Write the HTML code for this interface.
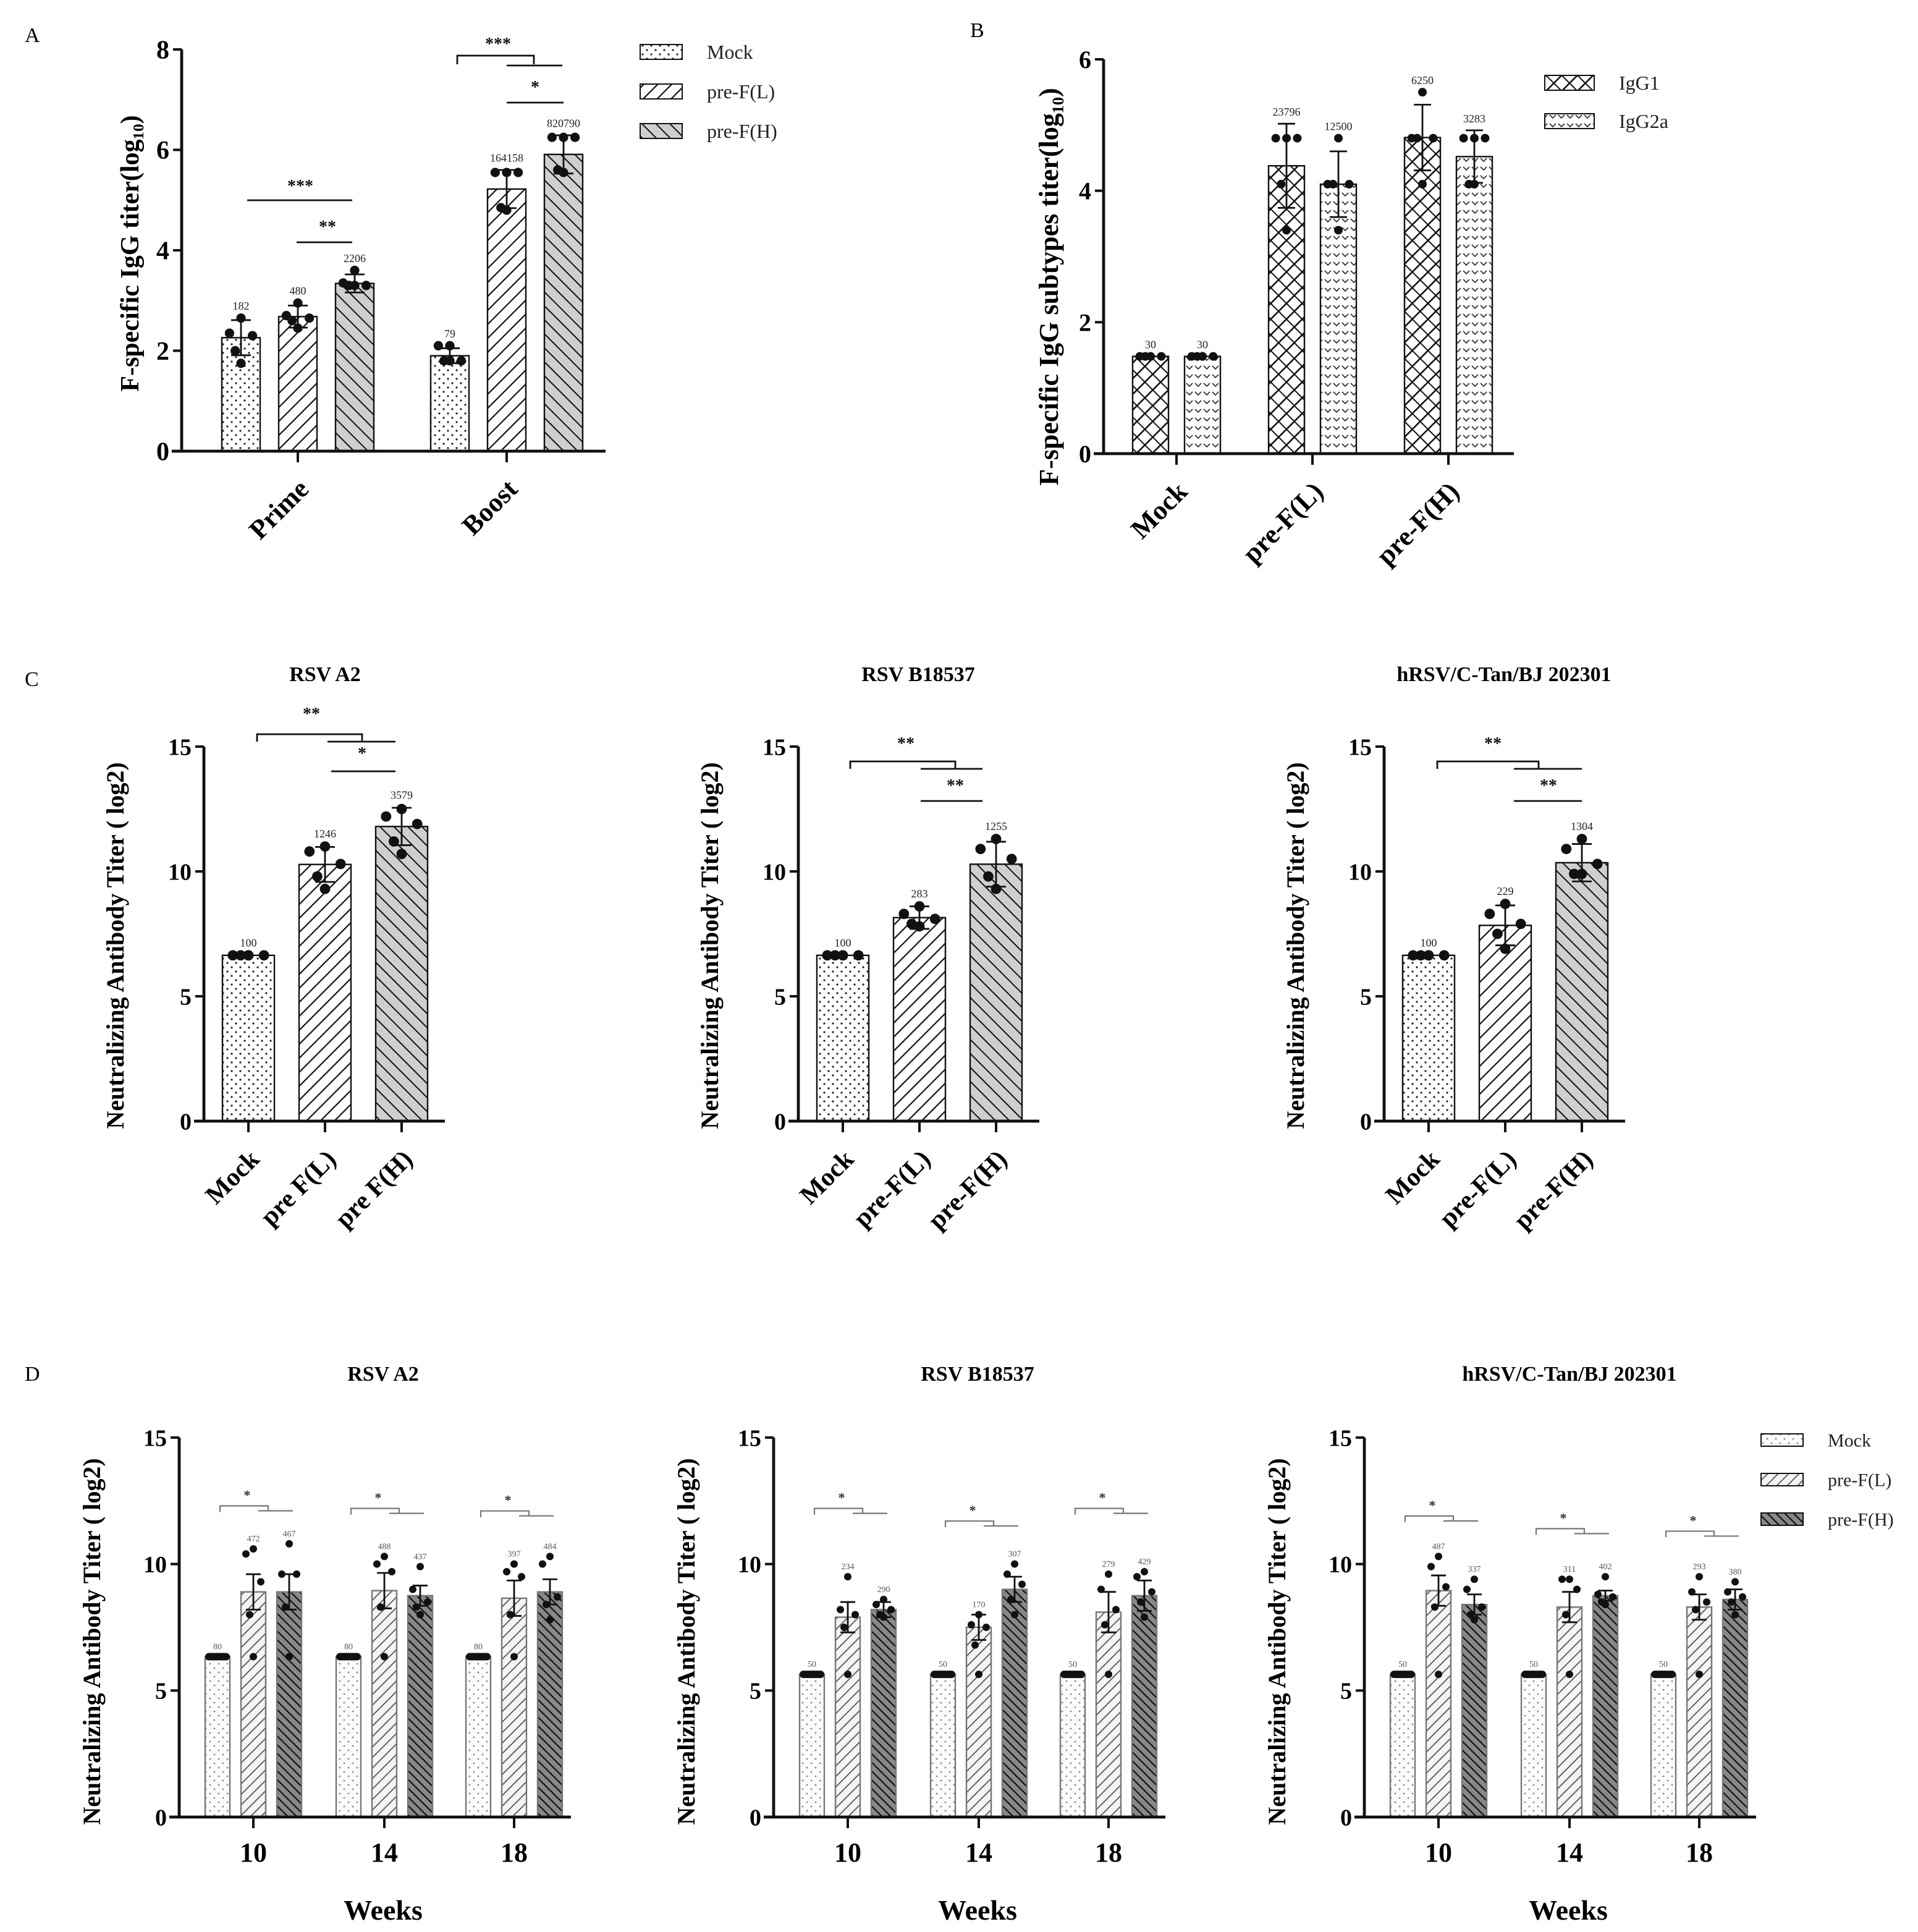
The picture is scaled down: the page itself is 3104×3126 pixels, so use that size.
<!DOCTYPE html>
<html><head><meta charset="utf-8"><style>
html,body{margin:0;padding:0;background:#fff;}
svg{display:block;font-family:"Liberation Serif",serif;}
</style></head><body>
<svg id="fig" xmlns="http://www.w3.org/2000/svg" width="3104" height="3126" viewBox="0 0 1552 1563">
<defs>
<pattern id="pDots" width="7" height="7" patternUnits="userSpaceOnUse"><rect width="7" height="7" fill="#fff"/><circle cx="2" cy="2" r="0.8" fill="#222"/><circle cx="5.5" cy="5.5" r="0.8" fill="#222"/></pattern>
<pattern id="pL" width="8" height="8" patternUnits="userSpaceOnUse" patternTransform="rotate(45)"><rect width="8" height="8" fill="#fff"/><line x1="0" y1="0" x2="0" y2="8" stroke="#111" stroke-width="2.2"/></pattern>
<pattern id="pH" width="8" height="8" patternUnits="userSpaceOnUse" patternTransform="rotate(-45)"><rect width="8" height="8" fill="#cfcfcf"/><line x1="0" y1="0" x2="0" y2="8" stroke="#111" stroke-width="2"/></pattern>
<pattern id="pG1" width="9" height="9" patternUnits="userSpaceOnUse" patternTransform="rotate(45)"><rect width="9" height="9" fill="#fff"/><line x1="0" y1="0" x2="0" y2="9" stroke="#111" stroke-width="2.6"/><line x1="0" y1="4.5" x2="9" y2="4.5" stroke="#111" stroke-width="1"/></pattern>
<pattern id="pG2" width="7" height="7" patternUnits="userSpaceOnUse"><rect width="7" height="7" fill="#fff"/><path d="M1 2 L3.5 4.5 L6 2" stroke="#333" stroke-width="0.9" fill="none"/></pattern>
<pattern id="pDM" width="7" height="7" patternUnits="userSpaceOnUse"><rect width="7" height="7" fill="#fbfbfb"/><circle cx="2" cy="2" r="0.7" fill="#888"/><circle cx="5.5" cy="5.5" r="0.7" fill="#888"/></pattern>
<pattern id="pDL" width="6" height="6" patternUnits="userSpaceOnUse" patternTransform="rotate(45)"><rect width="6" height="6" fill="#f4f4f4"/><line x1="0" y1="0" x2="0" y2="6" stroke="#555" stroke-width="1.8"/></pattern>
<pattern id="pDH" width="5" height="5" patternUnits="userSpaceOnUse" patternTransform="rotate(-45)"><rect width="5" height="5" fill="#888"/><line x1="0" y1="0" x2="0" y2="5" stroke="#111" stroke-width="2.2"/></pattern>
</defs>
<g id="root"></g>
</svg>
<script>
// ---------- DATA ----------
// Panel A
const aCategories = ["Prime","Boost"];
const aSeries = ["Mock","pre-F(L)","pre-F(H)"];
const aMeans = [[2.26,2.68,3.34],[1.9,5.22,5.91]];
const aErrs = [[0.35,0.22,0.18],[0.15,0.38,0.38]];
const aLabels = [["182","480","2206"],["79","164158","820790"]];
const aPoints = [[[2.65,2.35,2.3,2.0,1.75],[2.95,2.7,2.65,2.6,2.45],[3.6,3.35,3.3,3.3,3.3]],[[2.1,2.1,1.8,1.8,1.8],[5.55,5.55,5.55,4.85,4.8],[6.25,6.25,6.25,5.6,5.55]]];
const aTicks = [0,2,4,6,8];
// Panel B
const bCategories = ["Mock","pre-F(L)","pre-F(H)"];
const bSeries = ["IgG1","IgG2a"];
const bMeans = [[1.48,1.48],[4.38,4.1],[4.81,4.52]];
const bErrs = [[0,0],[0.64,0.5],[0.5,0.4]];
const bLabels = [["30","30"],["23796","12500"],["6250","3283"]];
const bPoints = [[[1.48,1.48,1.48,1.48,1.48],[1.48,1.48,1.48,1.48,1.48]],[[4.8,4.8,4.8,4.1,3.4],[4.8,4.1,4.1,4.1,3.4]],[[5.5,4.8,4.8,4.8,4.1],[4.8,4.8,4.8,4.1,4.1]]];
const bTicks = [0,2,4,6];
// Panel C
const cTitles = ["RSV A2","RSV B18537","hRSV/C-Tan/BJ 202301"];
const cCategories = [["Mock","pre F(L)","pre F(H)"],["Mock","pre-F(L)","pre-F(H)"],["Mock","pre-F(L)","pre-F(H)"]];
const cMeans = [[6.64,10.28,11.8],[6.64,8.15,10.29],[6.64,7.84,10.35]];
const cErrs = [[0,0.7,0.75],[0,0.45,0.9],[0,0.8,0.75]];
const cLabels = [["100","1246","3579"],["100","283","1255"],["100","229","1304"]];
const cPoints = [
 [[6.64,6.64,6.64,6.64,6.64],[11.0,10.8,10.3,9.8,9.3],[12.5,12.2,11.9,11.2,10.7]],
 [[6.64,6.64,6.64,6.64,6.64],[8.6,8.3,8.1,7.9,7.8],[11.3,10.9,10.5,9.8,9.3]],
 [[6.64,6.64,6.64,6.64,6.64],[8.7,8.3,7.9,7.5,6.9],[11.3,10.9,10.3,9.9,9.9]]];
const cTicks = [0,5,10,15];
// Panel D
const dTitles = ["RSV A2","RSV B18537","hRSV/C-Tan/BJ 202301"];
const dWeeks = ["10","14","18"];
const dMeans = [
 [[6.34,8.9,8.9],[6.34,8.95,8.75],[6.34,8.65,8.9]],
 [[5.64,7.9,8.2],[5.64,7.5,9.0],[5.64,8.1,8.75]],
 [[5.64,8.95,8.4],[5.64,8.3,8.75],[5.64,8.3,8.6]]];
const dErrs = [
 [[0,0.7,0.7],[0,0.7,0.4],[0,0.7,0.5]],
 [[0,0.6,0.3],[0,0.5,0.5],[0,0.8,0.6]],
 [[0,0.6,0.4],[0,0.6,0.2],[0,0.5,0.4]]];
const dLabels = [
 [["80","472","467"],["80","488","437"],["80","397","484"]],
 [["50","234","290"],["50","170","307"],["50","279","429"]],
 [["50","487","337"],["50","311","402"],["50","293","380"]]];
const dPoints = [
 [[[6.34],[10.6,10.4,9.3,8.0,6.34],[10.8,9.6,9.6,8.3,6.34]],[[6.34],[10.3,10.0,9.7,8.3,6.34],[9.9,9.0,8.5,8.3,8.0]],[[6.34],[10.0,9.7,9.5,8.0,6.34],[10.3,10.0,8.7,8.4,7.8]]],
 [[[5.64],[9.5,8.2,8.0,7.5,5.64],[8.6,8.4,8.2,8.0,7.9]],[[5.64],[8.0,7.6,7.5,6.8,5.64],[10.0,9.6,9.2,8.6,8.0]],[[5.64],[9.6,9.0,8.2,7.6,5.64],[9.7,9.5,8.9,8.5,7.9]]],
 [[[5.64],[10.3,9.9,9.1,8.3,5.64],[9.4,9.0,8.3,8.0,7.8]],[[5.64],[9.4,9.4,9.0,8.0,5.64],[9.5,8.8,8.7,8.5,8.4]],[[5.64],[9.5,8.9,8.5,8.2,5.64],[9.3,8.9,8.7,8.5,8.0]]]];
const dSigLevels = [[12.3,12.2,12.1],[12.2,11.7,12.2],[11.9,11.4,11.3]];
const dTicks = [0,5,10,15];

// ---------- HELPERS ----------
const NS="http://www.w3.org/2000/svg";
const root=document.getElementById('root');
function el(tag,attrs,parent){const e=document.createElementNS(NS,tag);for(const k in attrs)e.setAttribute(k,attrs[k]);(parent||root).appendChild(e);return e;}
function txt(s,attrs,parent){const e=el('text',attrs,parent);e.textContent=s;return e;}

function drawChart(o){
  const g=el('g',{});
  
  
  const y=v=>o.y0-(v/o.max)*(o.y0-o.yTop);
  o.means.forEach((grp,gi)=>{
    grp.forEach((m,si)=>{
      const cx=o.centers[gi]+(si-(grp.length-1)/2)*o.off;
      const r=el('rect',{x:cx-o.bw/2,y:y(m),width:o.bw,height:o.y0-y(m),fill:o.fills[si],stroke:o.stroke||'#111','stroke-width':1.2},g);
      
      
      const e=o.errs[gi][si];
      if(e>0){
        el('line',{x1:cx,x2:cx,y1:y(m+e),y2:y(m-e),stroke:'#111','stroke-width':1.4},g);
        el('line',{x1:cx-o.cap,x2:cx+o.cap,y1:y(m+e),y2:y(m+e),stroke:'#111','stroke-width':1.4},g);
        el('line',{x1:cx-o.cap,x2:cx+o.cap,y1:y(m-e),y2:y(m-e),stroke:'#111','stroke-width':1.4},g);
      }
      const pts=o.points[gi][si];
      if(pts.length===1){
        el('rect',{x:cx-o.bw/2,y:y(pts[0])-o.dot,width:o.bw,height:o.dot*2,fill:'#111',rx:o.dot},g);
      } else {
        pts.forEach((p,pi)=>{
          const dx=[0,-o.bw*0.3,o.bw*0.3,-o.bw*0.15,0][pi%5];
          const c=el('circle',{cx:cx+dx,cy:y(p),r:o.dot,fill:'#111'},g);
          
          
        });
      }
      const top=Math.max(m+e,...pts);
      txt(o.labels[gi][si],{x:cx,y:y(top)-o.dot-3,'font-size':o.lfs,'text-anchor':'middle',fill:o.lcol||'#222'},g);
    });
  });
  el('line',{x1:o.x0,x2:o.x0,y1:o.yTop,y2:o.y0+1,stroke:'#111','stroke-width':2.4},g);
  el('line',{x1:o.x0-8,x2:o.xEnd,y1:o.y0,y2:o.y0,stroke:'#111','stroke-width':2.4},g);
  o.ticks.forEach(t=>{
    el('line',{x1:o.x0-7,x2:o.x0,y1:y(t),y2:y(t),stroke:'#111','stroke-width':2},g);
    const tl=txt(String(t),{x:o.x0-10,y:y(t)+o.tfs*0.35,'font-size':o.tfs,'font-weight':'bold','text-anchor':'end'},g);
    
    
  });
  o.centers.forEach((c,i)=>{
    el('line',{x1:c,x2:c,y1:o.y0,y2:o.y0+9,stroke:'#111','stroke-width':2},g);
    let t;
    if(o.rotate){
      t=txt(o.cats[i],{x:c+10,y:o.y0+32,'font-size':o.cfs,'font-weight':'bold','text-anchor':'end',transform:`rotate(-45 ${c+10} ${o.y0+32})`},g);
    } else {
      t=txt(o.cats[i],{x:c,y:o.y0+36,'font-size':o.cfs,'font-weight':'bold','text-anchor':'middle'},g);
    }
    
    
  });
  const yl=txt(o.ylabel,{x:o.ylx,y:o.yly,'font-size':o.yfs,'font-weight':'bold','text-anchor':'middle',transform:`rotate(-90 ${o.ylx} ${o.yly})`},g);
  
  
  if(o.title){
    const tt=txt(o.title,{x:o.tx,y:o.ty,'font-size':17,'font-weight':'bold','text-anchor':'middle'},g);
    
    
  }
  return {g,y};
}
function sig(g,pts,col,w){el('polyline',{points:pts,fill:'none',stroke:col||'#111','stroke-width':w||1.4},g);}
function star(g,s,x,yy,fs,col){txt(s,{x:x,y:yy,'font-size':fs||14,'font-weight':'bold','text-anchor':'middle',fill:col||'#111'},g);}
function legend(items,x,y0,dy,fs,bw,bh,name){
  const g=el('g',{});
  
  
  items.forEach((it,i)=>{
    const yy=y0+i*dy;
    el('rect',{x:x,y:yy-bh/2,width:bw,height:bh,fill:it[1],stroke:'#111','stroke-width':1},g);
    txt(it[0],{x:x+bw+20,y:yy+fs*0.35,'font-size':fs,fill:'#222'},g);
  });
}
function panelLabel(s,x,y){const t=txt(s,{x:x,y:y,'font-size':17});}

// ---------- PANEL A ----------
panelLabel('A',20,34);
const A=drawChart({name:'panel-a',x0:147,y0:365,yTop:40,max:8,xEnd:490,centers:[241,410],off:46,bw:31,cap:8,dot:3.8,
 means:aMeans,errs:aErrs,labels:aLabels,points:aPoints,fills:['url(#pDots)','url(#pL)','url(#pH)'],ticks:aTicks,tfs:21,
 cats:aCategories,rotate:true,cfs:22,lfs:9,ylabel:'F-specific IgG titer(log\u2081\u2080)',ylx:112,yly:205,yfs:21});
sig(A.g,'200,162 285,162');star(A.g,'***',243,155);
sig(A.g,'240,196 285,196');star(A.g,'**',265,188);
sig(A.g,'370,52 370,45 432,45 432,52');sig(A.g,'410,53 455,53');star(A.g,'***',403,40);
star(A.g,'*',433,75);sig(A.g,'410,83 456,83');
legend([['Mock','url(#pDots)'],['pre-F(L)','url(#pL)'],['pre-F(H)','url(#pH)']],518,42,32,16,34,12,'legend-a');

// ---------- PANEL B ----------
panelLabel('B',785,30);
drawChart({name:'panel-b',x0:893,y0:367,yTop:48,max:6,xEnd:1225,centers:[952,1062,1172],off:42,bw:29,cap:7,dot:3.5,
 means:bMeans,errs:bErrs,labels:bLabels,points:bPoints,fills:['url(#pG1)','url(#pG2)'],ticks:bTicks,tfs:20,
 cats:bCategories,rotate:true,cfs:22,lfs:9,ylabel:'F-specific IgG subtypes titer(log\u2081\u2080)',ylx:856,yly:232,yfs:22});
legend([['IgG1','url(#pG1)'],['IgG2a','url(#pG2)']],1250,67,31,16,40,12,'legend-b');

// ---------- PANEL C ----------
panelLabel('C',20,555);
const cX=[165,646,1120], cTitleX=[263,743,1217];
const cSig=[
 {b:[208,293,594,600,265,320],s1:['**',252,582],s2:['*',293,614],l2:[268,320,624]},
 {b:[688,773,616,622,745,795],s1:['**',733,606],s2:['**',773,640],l2:[745,795,648]},
 {b:[1163,1245,616,622,1225,1280],s1:['**',1208,606],s2:['**',1253,640],l2:[1225,1280,648]}];
cTitles.forEach((t,i)=>{
  const c=drawChart({name:'panel-c-'+(i+1),x0:cX[i],y0:907,yTop:604,max:15,xEnd:cX[i]+195,centers:[cX[i]+36,cX[i]+98,cX[i]+160],off:0,bw:42,cap:8,dot:4.2,
   means:cMeans[i].map(v=>[v]),errs:cErrs[i].map(v=>[v]),labels:cLabels[i].map(v=>[v]),points:cPoints[i].map(v=>[v]),
   fills:['url(#pDots)'],ticks:cTicks,tfs:19,cats:cCategories[i],rotate:true,cfs:21,lfs:9,
   ylabel:'Neutralizing Antibody Titer ( log2)',ylx:cX[i]-65,yly:765,yfs:20,title:t,tx:cTitleX[i],ty:551});
  const rects=c.g.querySelectorAll('rect');
  rects[1].setAttribute('fill','url(#pL)');rects[2].setAttribute('fill','url(#pH)');
  const s=cSig[i];
  sig(c.g,`${s.b[0]},${s.b[2]+6} ${s.b[0]},${s.b[2]} ${s.b[1]},${s.b[2]} ${s.b[1]},${s.b[3]}`);
  sig(c.g,`${s.b[4]},${s.b[3]} ${s.b[5]},${s.b[3]}`);
  star(c.g,s.s1[0],s.s1[1],s.s1[2]);star(c.g,s.s2[0],s.s2[1],s.s2[2]);
  sig(c.g,`${s.l2[0]},${s.l2[2]} ${s.l2[1]},${s.l2[2]}`);
});

// ---------- PANEL D ----------
panelLabel('D',20,1117);
const dX=[145,626,1104], dTitleX=[310,791,1270];
dTitles.forEach((t,i)=>{
  const x0=dX[i];
  const centers=[x0+60,x0+166,x0+271];
  const d=drawChart({name:'panel-d-'+(i+1),x0:x0,y0:1470,yTop:1163,max:15,xEnd:x0+317,centers:centers,off:29,bw:20,cap:6,dot:3,
   means:dMeans[i],errs:dErrs[i],labels:dLabels[i],points:dPoints[i],fills:['url(#pDM)','url(#pDL)','url(#pDH)'],stroke:'#777',
   ticks:dTicks,tfs:19,cats:dWeeks,rotate:false,cfs:22,lfs:7,lcol:'#555',
   ylabel:'Neutralizing Antibody Titer ( log2)',ylx:x0-64,yly:1328,yfs:20,title:t,tx:dTitleX[i],ty:1117});
  const w=txt('Weeks',{x:x0+165,y:1553,'font-size':23,'font-weight':'bold','text-anchor':'middle'},d.g);
  
  
  centers.forEach((c,gi)=>{
    const yy=d.y(dSigLevels[i][gi]);
    sig(d.g,`${c-27},${yy+5} ${c-27},${yy} ${c+12},${yy} ${c+12},${yy+4}`,'#777',1.1);
    sig(d.g,`${c+4},${yy+4} ${c+32},${yy+4}`,'#777',1.1);
    star(d.g,'*',c-5,yy-5,11,'#333');
  });
});
legend([['Mock','url(#pDM)'],['pre-F(L)','url(#pDL)'],['pre-F(H)','url(#pDH)']],1425,1165,32,15,34,10,'legend-d');
</script>
</body></html>
